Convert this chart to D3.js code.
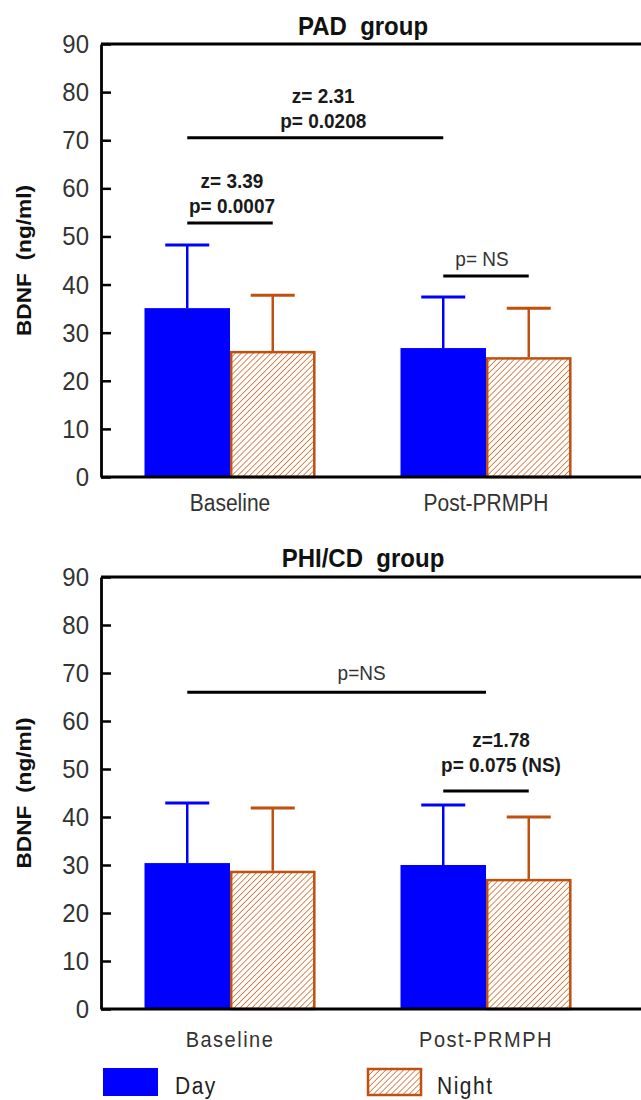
<!DOCTYPE html>
<html>
<head>
<meta charset="utf-8">
<script src="https://cdn.jsdelivr.net/npm/d3@7"></script>
<style>
  body { margin: 0; background: white; }
  text { font-family: "Liberation Sans", Arial, sans-serif; white-space: pre; }
</style>
</head>
<body>
<div id="chart"></div>
<script>
// data
const categories = ["Baseline", "Post-PRMPH"];
const series = ["Day", "Night"];
const yTicks = [0, 10, 20, 30, 40, 50, 60, 70, 80, 90];

// PAD group: mean and SD
const padDay = [35.1, 26.8];
const padDaySD = [13.1, 10.6];
const padNight = [26.2, 24.9];
const padNightSD = [11.6, 10.2];

// PHI/CD group
const phiDay = [30.4, 30.0];
const phiDaySD = [12.5, 12.5];
const phiNight = [28.8, 27.1];
const phiNightSD = [13.1, 12.9];

// significance brackets: [from cat, from series, to cat, to series, level, text lines, bold]
const padNotes = [
    ["Baseline", "Day", "Post-PRMPH", "Day", 70.5, ["z= 2.31", "p= 0.0208"], true],
    ["Baseline", "Day", "Baseline", "Night", 52.8, ["z= 3.39", "p= 0.0007"], true],
    ["Post-PRMPH", "Day", "Post-PRMPH", "Night", 41.8, ["p= NS"], false]
];
const phiNotes = [
    ["Baseline", "Day", "Post-PRMPH", null, 66, ["p=NS"], false],
    ["Post-PRMPH", "Day", "Post-PRMPH", "Night", 45.4, ["z=1.78", "p= 0.075 (NS)"], true]
];
// text nudges for each bracket label [dx, dy]
const padNoteShift = [[8, 0], [2, 0], [-4, 0]];
const phiNoteShift = [[25, -2], [15, -9]];

const svgWidth = 641, svgHeight = 1100;
const axisX = 101;
const tall = 1.1; // lettering in the picture is a little tall

const svg = d3.select("#chart")
    .append("svg")
    .attr("width", svgWidth)
    .attr("height", svgHeight);

// hatch for the night bars
svg.append("defs").append("pattern")
    .attr("id", "hatch")
    .attr("patternUnits", "userSpaceOnUse")
    .attr("width", 4.2)
    .attr("height", 4.2)
    .attr("patternTransform", "rotate(45)")
    .call(p => {
        p.append("rect").attr("width", 4.2).attr("height", 4.2).attr("fill", "white");
        p.append("line").attr("x1", 0).attr("y1", 0).attr("x2", 0).attr("y2", 4.2)
            .attr("stroke", "#d46d2c").attr("stroke-width", 1.6);
    });

const dayColor = "#0000ff";
const nightColor = "#c0500f";

const xScale = d3.scaleBand()
    .domain(categories)
    .range([102, 614])
    .paddingInner(0.332)
    .paddingOuter(0.166);

const xSub = d3.scaleBand()
    .domain(series)
    .range([0, xScale.bandwidth()]);

function addText(g, x, y, txt, size, weight, anchor, fill) {
    return g.append("text")
        .attr("transform", `translate(${x},${y}) scale(1,${tall})`)
        .attr("text-anchor", anchor)
        .attr("font-size", size)
        .attr("font-weight", weight)
        .attr("fill", fill)
        .text(txt);
}

function barCenter(cat, s) {
    if (s == null) return xScale(cat) + xScale.bandwidth() / 2;
    return xScale(cat) + xSub(s) + xSub.bandwidth() / 2;
}

function drawPanel(p) {
    const g = svg.append("g");
    const yScale = d3.scaleLinear().domain([0, 90]).range([p.bottom, p.top]);

    // title
    addText(g, 363, p.titleY, p.title, 24, "bold", "middle", "#111");

    // y axis label
    g.append("text")
        .attr("transform", `translate(31,${(p.top + p.bottom) / 2}) rotate(-90) scale(1.08,1)`)
        .attr("text-anchor", "middle")
        .attr("font-size", 21)
        .attr("font-weight", "bold")
        .attr("fill", "#111")
        .text("BDNF  (ng/ml)");

    const rows = [
        { s: "Day", vals: p.day, sd: p.daySD, color: dayColor },
        { s: "Night", vals: p.night, sd: p.nightSD, color: nightColor }
    ];

    rows.forEach(function (r) {
        const eg = g.append("g");
        categories.forEach(function (c, i) {
            const cx = barCenter(c, r.s);
            eg.append("line")
                .attr("x1", cx).attr("x2", cx)
                .attr("y1", yScale(r.vals[i])).attr("y2", yScale(r.vals[i] + r.sd[i]))
                .attr("stroke", r.color).attr("stroke-width", 2.5);
            eg.append("line")
                .attr("x1", cx - 22).attr("x2", cx + 22)
                .attr("y1", yScale(r.vals[i] + r.sd[i])).attr("y2", yScale(r.vals[i] + r.sd[i]))
                .attr("stroke", r.color).attr("stroke-width", 3);
        });

        g.selectAll(null)
            .data(r.vals)
            .enter()
            .append("rect")
            .attr("x", (d, i) => xScale(categories[i]) + xSub(r.s) + (r.s == "Night" ? 1.2 : 0))
            .attr("y", d => yScale(d) + (r.s == "Night" ? 1.2 : 0))
            .attr("width", xSub.bandwidth() - (r.s == "Night" ? 2.4 : 0))
            .attr("height", d => yScale(0) - yScale(d) - (r.s == "Night" ? 1.2 : 0))
            .attr("fill", r.s == "Night" ? "url(#hatch)" : dayColor)
            .attr("stroke", r.s == "Night" ? nightColor : "none")
            .attr("stroke-width", 2.5);
    });

    // axis
    const yAxis = d3.axisLeft(yScale)
        .tickValues(yTicks)
        .tickSizeInner(-10)
        .tickSizeOuter(0)
        .tickPadding(12);
    const ag = g.append("g")
        .attr("transform", `translate(${axisX},0)`)
        .call(yAxis);
    ag.select(".domain").attr("stroke-width", 2.8);
    ag.selectAll(".tick line").attr("stroke-width", 2.5);
    ag.selectAll(".tick text")
        .attr("font-size", 24)
        .attr("fill", "#333")
        .attr("font-family", "'Liberation Sans', Arial, sans-serif")
        .attr("transform", `scale(1,${tall})`);

    // frame top and baseline
    g.append("line").attr("x1", axisX).attr("x2", svgWidth)
        .attr("y1", yScale(90)).attr("y2", yScale(90))
        .attr("stroke", "black").attr("stroke-width", 2.8);
    g.append("line").attr("x1", axisX).attr("x2", svgWidth)
        .attr("y1", yScale(0)).attr("y2", yScale(0))
        .attr("stroke", "black").attr("stroke-width", 2.8);

    // category labels
    categories.forEach(function (c) {
        addText(g, xScale(c) + xScale.bandwidth() / 2, p.bottom + p.catGap, c, p.catSize, "normal", "middle", "#333")
            .attr("letter-spacing", p.catSpacing);
    });

    // brackets
    p.notes.forEach(function (n, i) {
        const x1 = barCenter(n[0], n[1]);
        const x2 = barCenter(n[2], n[3]);
        const ly = yScale(n[4]);
        g.append("line")
            .attr("x1", x1).attr("x2", x2)
            .attr("y1", ly).attr("y2", ly)
            .attr("stroke", "black").attr("stroke-width", 3);
        const lines = n[5];
        const mid = (x1 + x2) / 2 + p.shift[i][0];
        lines.forEach(function (t, k) {
            const ty = ly - 10 + p.shift[i][1] - (lines.length - 1 - k) * 25;
            addText(g, mid, ty, t, 19, n[6] ? "bold" : "normal", "middle", n[6] ? "#1a1a1a" : "#333");
        });
    });
}

drawPanel({ title: "PAD  group", day: padDay, daySD: padDaySD, night: padNight, nightSD: padNightSD,
    notes: padNotes, shift: padNoteShift, top: 44, bottom: 477, titleY: 35,
    catGap: 34, catSize: 21, catSpacing: 0 });
drawPanel({ title: "PHI/CD  group", day: phiDay, daySD: phiDaySD, night: phiNight, nightSD: phiNightSD,
    notes: phiNotes, shift: phiNoteShift, top: 577, bottom: 1009, titleY: 567,
    catGap: 38, catSize: 20, catSpacing: 1.5 });

// legend
const legend = svg.append("g");
legend.append("rect").attr("x", 103).attr("y", 1068).attr("width", 55).attr("height", 28)
    .attr("fill", dayColor);
addText(legend, 175, 1094, "Day", 21, "normal", "start", "#222").attr("letter-spacing", 1.5);
legend.append("rect").attr("x", 368).attr("y", 1069).attr("width", 53).attr("height", 26)
    .attr("fill", "url(#hatch)").attr("stroke", nightColor).attr("stroke-width", 2.5);
addText(legend, 437, 1094, "Night", 21, "normal", "start", "#222").attr("letter-spacing", 1.5);
</script>
</body>
</html>
